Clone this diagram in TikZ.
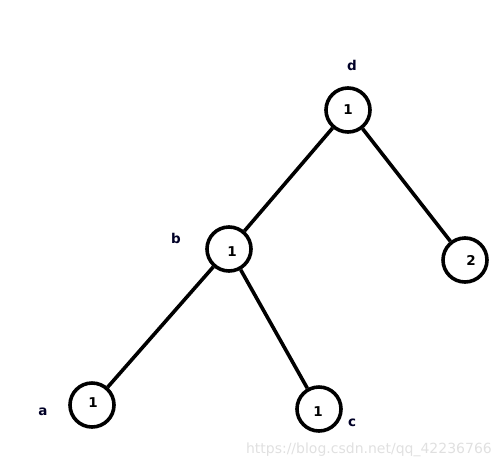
\documentclass[tikz,border=0pt]{standalone}
\usepackage{fontspec}
\setmainfont{DejaVu Sans}
\begin{document}
\begin{tikzpicture}[x=1pt,y=-1pt,
  vert/.style={circle,draw=black,line width=3.6pt,minimum size=44pt,inner sep=0pt},
  num/.style={font=\bfseries\fontsize{13.5}{15}\selectfont,inner sep=0pt},
  lab/.style={font=\bfseries\fontsize{13.5}{15}\selectfont,text=black!85!blue,inner sep=0pt},
  edge/.style={line width=3.6pt}]
\useasboundingbox (0,0) rectangle (502,469);
\node[vert] (d) at (348,110) {};
\node[vert] (b) at (229,249) {};
\node[vert] (t) at (465,260) {};
\node[vert] (a) at (92,405) {};
\node[vert] (c) at (319,409) {};
\node[num] (dn) at (348,110) {1};
\node[num] (bn) at (232,252) {1};
\node[num] (tn) at (471,260) {2};
\node[num] (an) at (93,403) {1};
\node[num] (cn) at (318,412) {1};
\node[lab] (dl) at (352,65) {d};
\node[lab] (bl) at (176,238) {b};
\node[lab] (al) at (43,412) {a};
\node[lab] (cl) at (352,423) {c};
\draw[edge] (d) -- (b);
\draw[edge] (d) -- (t);
\draw[edge] (b) -- (a);
\draw[edge] (b) -- (c);
\node[font=\fontsize{14}{16}\selectfont,text=black!12,inner sep=0pt,anchor=east] (wm) at (492,450) {https://blog.csdn.net/qq\_42236766};
\end{tikzpicture}
\end{document}
